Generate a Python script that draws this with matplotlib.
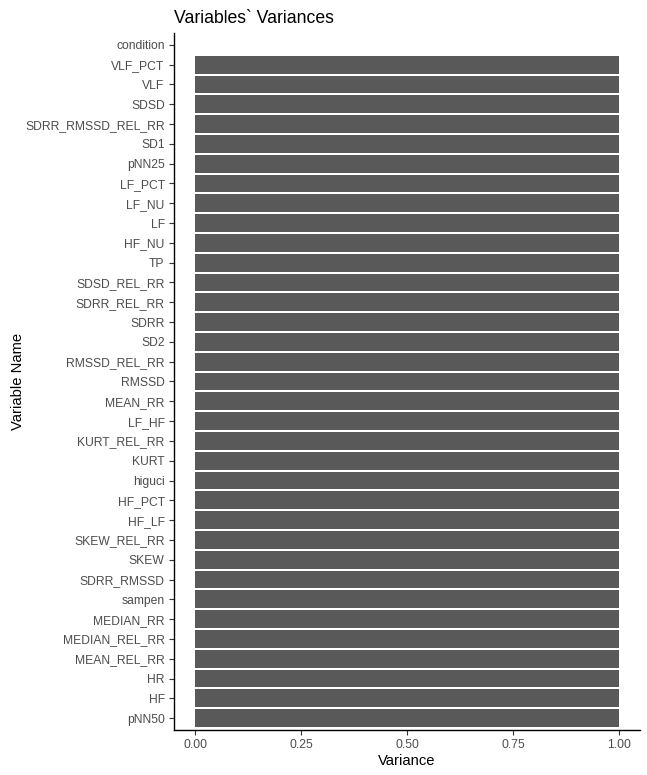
import matplotlib.pyplot as plt
import numpy as np

plt.rcParams['font.family'] = ['Liberation Sans', 'DejaVu Sans']

# top to bottom as shown
variables = ["condition", "VLF_PCT", "VLF", "SDSD", "SDRR_RMSSD_REL_RR", "SD1",
             "pNN25", "LF_PCT", "LF_NU", "LF", "HF_NU", "TP", "SDSD_REL_RR",
             "SDRR_REL_RR", "SDRR", "SD2", "RMSSD_REL_RR", "RMSSD", "MEAN_RR",
             "LF_HF", "KURT_REL_RR", "KURT", "higuci", "HF_PCT", "HF_LF",
             "SKEW_REL_RR", "SKEW", "SDRR_RMSSD", "sampen", "MEDIAN_RR",
             "MEDIAN_REL_RR", "MEAN_REL_RR", "HR", "HF", "pNN50"]
variances = [0.0] + [1.0] * 34

x_ticks = [0.0, 0.25, 0.5, 0.75, 1.0]
x_labels = ["0.00", "0.25", "0.50", "0.75", "1.00"]

fig = plt.figure(figsize=(6.47, 7.75), dpi=100)
ax = fig.add_axes([174 / 647, 1 - 730 / 775, (640 - 174) / 647, (730 - 33) / 775])

n = len(variables)
ypos = np.arange(n)[::-1]
ax.barh(ypos, variances, height=0.9, color='#595959', edgecolor='none')

ax.set_xlim(-0.05, 1.05)
ax.set_ylim(-0.6, n - 1 + 0.6)
ax.set_yticks(ypos)
ax.set_yticklabels(variables)
ax.set_xticks(x_ticks)
ax.set_xticklabels(x_labels)

for s in ['top', 'right']:
    ax.spines[s].set_visible(False)
for s in ['left', 'bottom']:
    ax.spines[s].set_linewidth(1.0)
    ax.spines[s].set_color('black')

ax.tick_params(axis='both', length=3.7, width=0.8, color='#333333',
               labelcolor='#4D4D4D', labelsize=8.75, pad=3)

ax.set_xlabel("Variance", fontsize=10.6, color='black', labelpad=2)
ax.set_ylabel("Variable Name", fontsize=10.6, color='black', labelpad=0)
ax.set_title("Variables` Variances", loc='left', fontsize=12.7, color='black', pad=7)

fig.savefig("out.png", dpi=100)
